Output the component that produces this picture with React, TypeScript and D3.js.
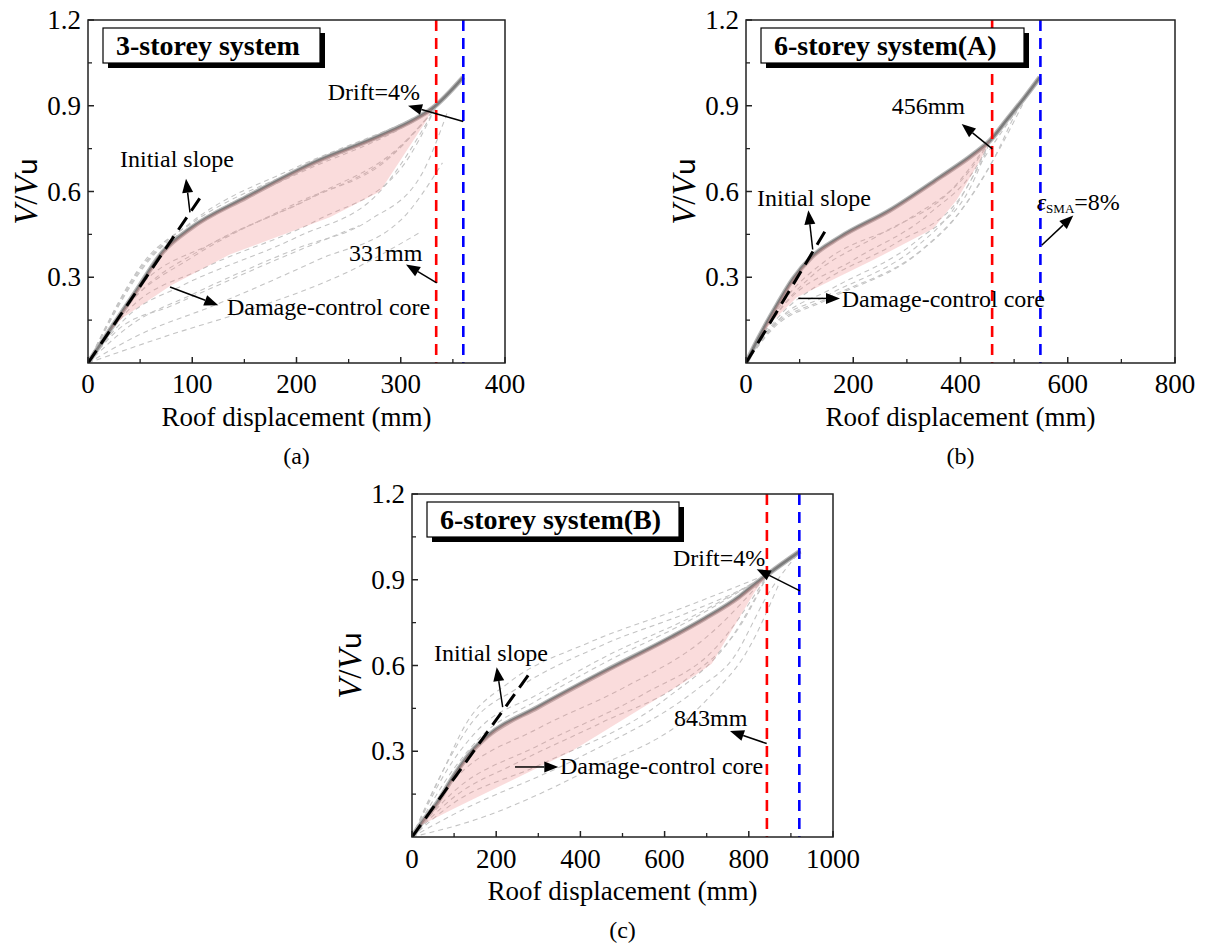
import React from 'react';
import * as d3 from 'd3';

type P = [number, number];

// ---------- Panel (a): 3-storey ----------
const mainA: P[] = [[0, 0], [20, 0.11], [45, 0.245], [72, 0.39], [98, 0.47], [152, 0.58], [216, 0.70], [280, 0.795], [312, 0.85], [330, 0.89], [360, 1.0]];
const pinkLowerA: P[] = [[20, 0.11], [34, 0.16], [79, 0.27], [136, 0.38], [232, 0.51], [280, 0.60], [325, 0.85], [330, 0.89]];
const dashedA: P[][] = [
  [[0, 0], [55, 0.36], [100, 0.49], [200, 0.675], [300, 0.83], [333, 0.89]],
  [[0, 0], [60, 0.37], [100, 0.48], [200, 0.665], [300, 0.825], [333, 0.89]],
  [[0, 0], [50, 0.33], [100, 0.495], [200, 0.685], [300, 0.835], [333, 0.89]],
  [[0, 0], [65, 0.385], [100, 0.475], [200, 0.66], [300, 0.82], [333, 0.89]],
  [[0, 0], [40, 0.21], [100, 0.37], [200, 0.56], [290, 0.72], [333, 0.89]],
  [[0, 0], [40, 0.19], [110, 0.33], [220, 0.50], [300, 0.68], [333, 0.89]],
  [[0, 0], [40, 0.17], [90, 0.27], [200, 0.44], [280, 0.60], [333, 0.89]],
  [[0, 0], [50, 0.27], [120, 0.42], [220, 0.59], [300, 0.76], [333, 0.89]],
  [[0, 0], [45, 0.23], [110, 0.40], [210, 0.57], [295, 0.74], [333, 0.89]],
  [[0, 0], [40, 0.13], [100, 0.24], [200, 0.40], [270, 0.50], [320, 0.66], [345, 0.88]],
  [[0, 0], [50, 0.10], [120, 0.20], [220, 0.36], [300, 0.50], [340, 0.70]],
  [[0, 0], [80, 0.10], [150, 0.18], [250, 0.32], [320, 0.46]],
  [[0, 0], [30, 0.12], [80, 0.20], [180, 0.36], [260, 0.48]],
];
const slopeA: P[] = [[0, 0], [109, 0.586]];
const redA = 334;
const blueA = 360;

// ---------- Panel (b): 6-storey (A) ----------
const mainB: P[] = [[0, 0], [23, 0.086], [60, 0.21], [88, 0.295], [122, 0.37], [175, 0.44], [269, 0.535], [362, 0.65], [424, 0.73], [456, 0.78], [486, 0.85], [520, 0.93], [548, 1.0]];
const pinkLowerB: P[] = [[25, 0.09], [51, 0.15], [95, 0.23], [237, 0.36], [349, 0.47], [393, 0.57], [437, 0.71], [456, 0.78]];
const dashedB: P[][] = [
  [[0, 0], [60, 0.18], [120, 0.30], [250, 0.45], [380, 0.60], [456, 0.78]],
  [[0, 0], [60, 0.16], [140, 0.28], [280, 0.42], [400, 0.58], [456, 0.78]],
  [[0, 0], [60, 0.15], [160, 0.26], [320, 0.43], [420, 0.62], [456, 0.78]],
  [[0, 0], [80, 0.24], [150, 0.36], [300, 0.50], [420, 0.68], [456, 0.78]],
  [[0, 0], [70, 0.20], [200, 0.36], [340, 0.52], [440, 0.72], [456, 0.78]],
  [[0, 0], [50, 0.12], [150, 0.22], [325, 0.39], [387, 0.50], [461, 0.71], [505, 0.88], [548, 1.0]],
  [[0, 0], [50, 0.13], [150, 0.235], [320, 0.41], [380, 0.52], [445, 0.72], [500, 0.87]],
  [[0, 0], [50, 0.125], [150, 0.225], [330, 0.40], [395, 0.52], [470, 0.74], [520, 0.92]],
];
const slopeB: P[] = [[0, 0], [153.6, 0.48]];
const redB = 459;
const blueB = 549;

// ---------- Panel (c): 6-storey (B) ----------
const mainC: P[] = [[0, 0], [23, 0.05], [60, 0.12], [102, 0.22], [142, 0.30], [177, 0.35], [300, 0.455], [458, 0.58], [617, 0.70], [696, 0.765], [775, 0.838], [815, 0.885], [846, 0.92], [922, 1.0]];
const pinkLowerC: P[] = [[20, 0.04], [100, 0.10], [379, 0.30], [672, 0.565], [712, 0.606], [815, 0.86], [846, 0.92]];
const dashedC: P[][] = [
  [[0, 0], [80, 0.25], [142, 0.40], [250, 0.52], [458, 0.675], [664, 0.79], [800, 0.88], [846, 0.92]],
  [[0, 0], [90, 0.25], [160, 0.38], [300, 0.50], [458, 0.63], [664, 0.77], [846, 0.92]],
  [[0, 0], [100, 0.24], [170, 0.36], [300, 0.48], [458, 0.61], [650, 0.75], [846, 0.92]],
  [[0, 0], [70, 0.22], [130, 0.40], [230, 0.54], [420, 0.68], [640, 0.80], [846, 0.92]],
  [[0, 0], [100, 0.20], [300, 0.38], [500, 0.52], [700, 0.70], [846, 0.92]],
  [[0, 0], [100, 0.16], [300, 0.32], [550, 0.50], [720, 0.66], [846, 0.92]],
  [[0, 0], [100, 0.12], [300, 0.25], [600, 0.48], [760, 0.70], [846, 0.92]],
  [[0, 0], [100, 0.14], [250, 0.26], [450, 0.40], [650, 0.55], [780, 0.74], [846, 0.92]],
  [[0, 0], [100, 0.08], [400, 0.28], [680, 0.52], [760, 0.62], [850, 0.86], [922, 1.0]],
  [[0, 0], [150, 0.06], [400, 0.22], [700, 0.48], [800, 0.66], [870, 0.88]],
];
const slopeC: P[] = [[0, 0], [283, 0.58]];
const redC = 843;
const blueC = 920;

const yTicks = [0.3, 0.6, 0.9, 1.2];
const yMinor = [0.15, 0.45, 0.75, 1.05];

type Ann = { text: string; tx: number; ty: number; from: P; to: P; eps?: boolean };

const annA: Ann[] = [
  { text: 'Initial slope', tx: 30.7, ty: 0.684, from: [97.8, 0.527], to: [94, 0.645] },
  { text: 'Drift=4%', tx: 230, ty: 0.921, from: [360, 0.845], to: [307, 0.9] },
  { text: '331mm', tx: 250.4, ty: 0.356, from: [334.5, 0.28], to: [305, 0.345] },
  { text: 'Damage-control core', tx: 133.3, ty: 0.167, from: [78.7, 0.266], to: [125, 0.202] },
];
const annB: Ann[] = [
  { text: 'Initial slope', tx: 20.5, ty: 0.551, from: [124.4, 0.397], to: [116.2, 0.534] },
  { text: '456mm', tx: 271.7, ty: 0.872, from: [459.3, 0.749], to: [402.2, 0.836] },
  { text: '=8%', tx: 542, ty: 0.534, from: [551.4, 0.412], to: [610.3, 0.516], eps: true },
  { text: 'Damage-control core', tx: 178.5, ty: 0.196, from: [97.5, 0.226], to: [175.3, 0.226] },
];
const annC: Ann[] = [
  { text: 'Initial slope', tx: 52.3, ty: 0.614, from: [215.4, 0.454], to: [201.2, 0.594] },
  { text: 'Drift=4%', tx: 620, ty: 0.949, from: [921.6, 0.861], to: [818.8, 0.937] },
  { text: '843mm', tx: 622.3, ty: 0.387, from: [842.5, 0.327], to: [755.3, 0.371] },
  { text: 'Damage-control core', tx: 351.5, ty: 0.22, from: [244.7, 0.245], to: [347.5, 0.245] },
];

const FONT = '"Liberation Serif", "Times New Roman", serif';

function Arrow({ x1, y1, x2, y2 }: { x1: number; y1: number; x2: number; y2: number }) {
  const a = Math.atan2(y2 - y1, x2 - x1);
  const L = 14, W = 5.5;
  const bx = x2 - L * Math.cos(a), by = y2 - L * Math.sin(a);
  const p1 = [bx + W * Math.sin(a), by - W * Math.cos(a)];
  const p2 = [bx - W * Math.sin(a), by + W * Math.cos(a)];
  return (
    <g>
      <line x1={x1} y1={y1} x2={bx} y2={by} stroke="#000" strokeWidth={1.5} />
      <polygon points={`${x2},${y2} ${p1[0]},${p1[1]} ${p2[0]},${p2[1]}`} fill="#000" />
    </g>
  );
}

type PanelProps = {
  id: string;
  left: number; right: number; top: number; bottom: number;
  xMax: number; xStep: number;
  main: P[]; pinkLower: P[]; dashed: P[][]; slope: P[];
  red: number; blue: number;
  ann: Ann[];
  title: string; titleW: number;
  caption: string;
  xLabelY: number; tickLabelY: number; captionY: number;
};

function Panel(p: PanelProps) {
  const x = d3.scaleLinear().domain([0, p.xMax]).range([p.left, p.right]);
  const y = d3.scaleLinear().domain([0, 1.2]).range([p.bottom, p.top]);
  const smooth = d3.line<P>().x(d => x(d[0])).y(d => y(d[1])).curve(d3.curveMonotoneX);
  const lin = d3.line<P>().x(d => x(d[0])).y(d => y(d[1]));
  const x0 = p.pinkLower[0][0];
  const xN = p.pinkLower[p.pinkLower.length - 1][0];
  const upper: P[] = [p.pinkLower[0], ...p.main.filter(d => d[0] > x0 && d[0] < xN), p.pinkLower[p.pinkLower.length - 1]];
  const lowerRev = [...p.pinkLower].reverse();
  const pinkPath = smooth(upper) + lowerRev.map(d => `L${x(d[0])},${y(d[1])}`).join('') + 'Z';
  const majors = d3.range(0, p.xMax + 0.001, p.xStep);
  const minors = d3.range(p.xStep / 2, p.xMax, p.xStep);
  const cx = (p.left + p.right) / 2;
  const cy = (p.top + p.bottom) / 2;
  const clipId = 'clip-' + p.id;
  return (
    <g fontFamily={FONT}>
      <defs>
        <clipPath id={clipId}>
          <rect x={p.left} y={p.top} width={p.right - p.left} height={p.bottom - p.top} />
        </clipPath>
      </defs>
      <g clipPath={`url(#${clipId})`}>
        {p.dashed.map((c, i) => (
          <path key={i} d={smooth(c) || ''} fill="none" stroke="#c4c4c4" strokeWidth={1.1} strokeDasharray="5,4" />
        ))}
        <path d={smooth(p.main) || ''} fill="none" stroke="#b8b8b8" strokeWidth={5} />
        <path d={smooth(p.main) || ''} fill="none" stroke="#7c7c7c" strokeWidth={2.6} />
        <path d={pinkPath} fill="rgb(240,140,140)" fillOpacity={0.3} stroke="none" />
        <path d={lin(p.slope) || ''} fill="none" stroke="#000" strokeWidth={3} strokeDasharray="15,8" />
        <line x1={x(p.red)} x2={x(p.red)} y1={p.top} y2={p.bottom} stroke="#ff0000" strokeWidth={2.6} strokeDasharray="11,7" />
        <line x1={x(p.blue)} x2={x(p.blue)} y1={p.top} y2={p.bottom} stroke="#0000ff" strokeWidth={2.6} strokeDasharray="11,7" />
      </g>
      {/* frame */}
      <rect x={p.left} y={p.top} width={p.right - p.left} height={p.bottom - p.top} fill="none" stroke="#222" strokeWidth={1.5} />
      {/* x ticks */}
      {majors.map(v => (
        <g key={'M' + v}>
          <line x1={x(v)} x2={x(v)} y1={p.bottom} y2={p.bottom - 6} stroke="#222" strokeWidth={1.5} />
          <text x={x(v)} y={p.tickLabelY} fontSize={27} textAnchor="middle">{v}</text>
        </g>
      ))}
      {minors.map(v => (
        <line key={'m' + v} x1={x(v)} x2={x(v)} y1={p.bottom} y2={p.bottom - 4} stroke="#222" strokeWidth={1.3} />
      ))}
      {/* y ticks */}
      {yTicks.map(v => (
        <g key={'Y' + v}>
          <line x1={p.left} x2={p.left + 6} y1={y(v)} y2={y(v)} stroke="#222" strokeWidth={1.5} />
          <text x={p.left - 7} y={y(v) + 9} fontSize={27} textAnchor="end">{v.toFixed(1)}</text>
        </g>
      ))}
      {yMinor.map(v => (
        <line key={'y' + v} x1={p.left} x2={p.left + 4} y1={y(v)} y2={y(v)} stroke="#222" strokeWidth={1.3} />
      ))}
      {/* axis labels */}
      <text x={cx} y={p.xLabelY} fontSize={27} textAnchor="middle">Roof displacement (mm)</text>
      <text transform={`translate(${p.left - 51},${cy}) rotate(-90)`} fontSize={33} textAnchor="middle">
        <tspan fontStyle="italic">V</tspan>/<tspan fontStyle="italic">V</tspan><tspan fontFamily='"DejaVu Sans", sans-serif' fontSize={27}>u</tspan>
      </text>
      <text x={cx} y={p.captionY} fontSize={24} textAnchor="middle">{p.caption}</text>
      {/* title box */}
      <rect x={p.left + 20} y={p.top + 13} width={p.titleW} height={35} fill="#000" />
      <rect x={p.left + 15} y={p.top + 8} width={p.titleW} height={35} fill="#fff" stroke="#000" strokeWidth={1.2} />
      <text x={p.left + 28} y={p.top + 35} fontSize={28} fontWeight="bold">{p.title}</text>
      {/* annotations */}
      {p.ann.map((a, i) => (
        <g key={i}>
          {a.eps ? (
            <text x={x(a.tx)} y={y(a.ty)} fontSize={24}>
              <tspan fontStyle="italic">ε</tspan>
              <tspan fontSize={13} dy={3}>SMA</tspan>
              <tspan dy={-3}>{a.text}</tspan>
            </text>
          ) : (
            <text x={x(a.tx)} y={y(a.ty)} fontSize={24}>{a.text}</text>
          )}
          <Arrow x1={x(a.from[0])} y1={y(a.from[1])} x2={x(a.to[0])} y2={y(a.to[1])} />
        </g>
      ))}
    </g>
  );
}

export default function App() {
  return (
    <svg width={1207} height={945} style={{ position: 'absolute', left: 0, top: 0, background: '#fff' }}>
      <rect width={1207} height={945} fill="#fff" />
      <Panel id="a" left={88} right={505} top={20} bottom={363} xMax={400} xStep={100}
        main={mainA} pinkLower={pinkLowerA} dashed={dashedA} slope={slopeA} red={redA} blue={blueA}
        ann={annA} title="3-storey system" titleW={217} caption="(a)"
        xLabelY={426} tickLabelY={393} captionY={464} />
      <Panel id="b" left={746} right={1175} top={20} bottom={363} xMax={800} xStep={200}
        main={mainB} pinkLower={pinkLowerB} dashed={dashedB} slope={slopeB} red={redB} blue={blueB}
        ann={annB} title="6-storey system(A)" titleW={263} caption="(b)"
        xLabelY={426} tickLabelY={393} captionY={464} />
      <Panel id="c" left={412} right={833} top={494} bottom={837} xMax={1000} xStep={200}
        main={mainC} pinkLower={pinkLowerC} dashed={dashedC} slope={slopeC} red={redC} blue={blueC}
        ann={annC} title="6-storey system(B)" titleW={252} caption="(c)"
        xLabelY={900} tickLabelY={868} captionY={938} />
    </svg>
  );
}
